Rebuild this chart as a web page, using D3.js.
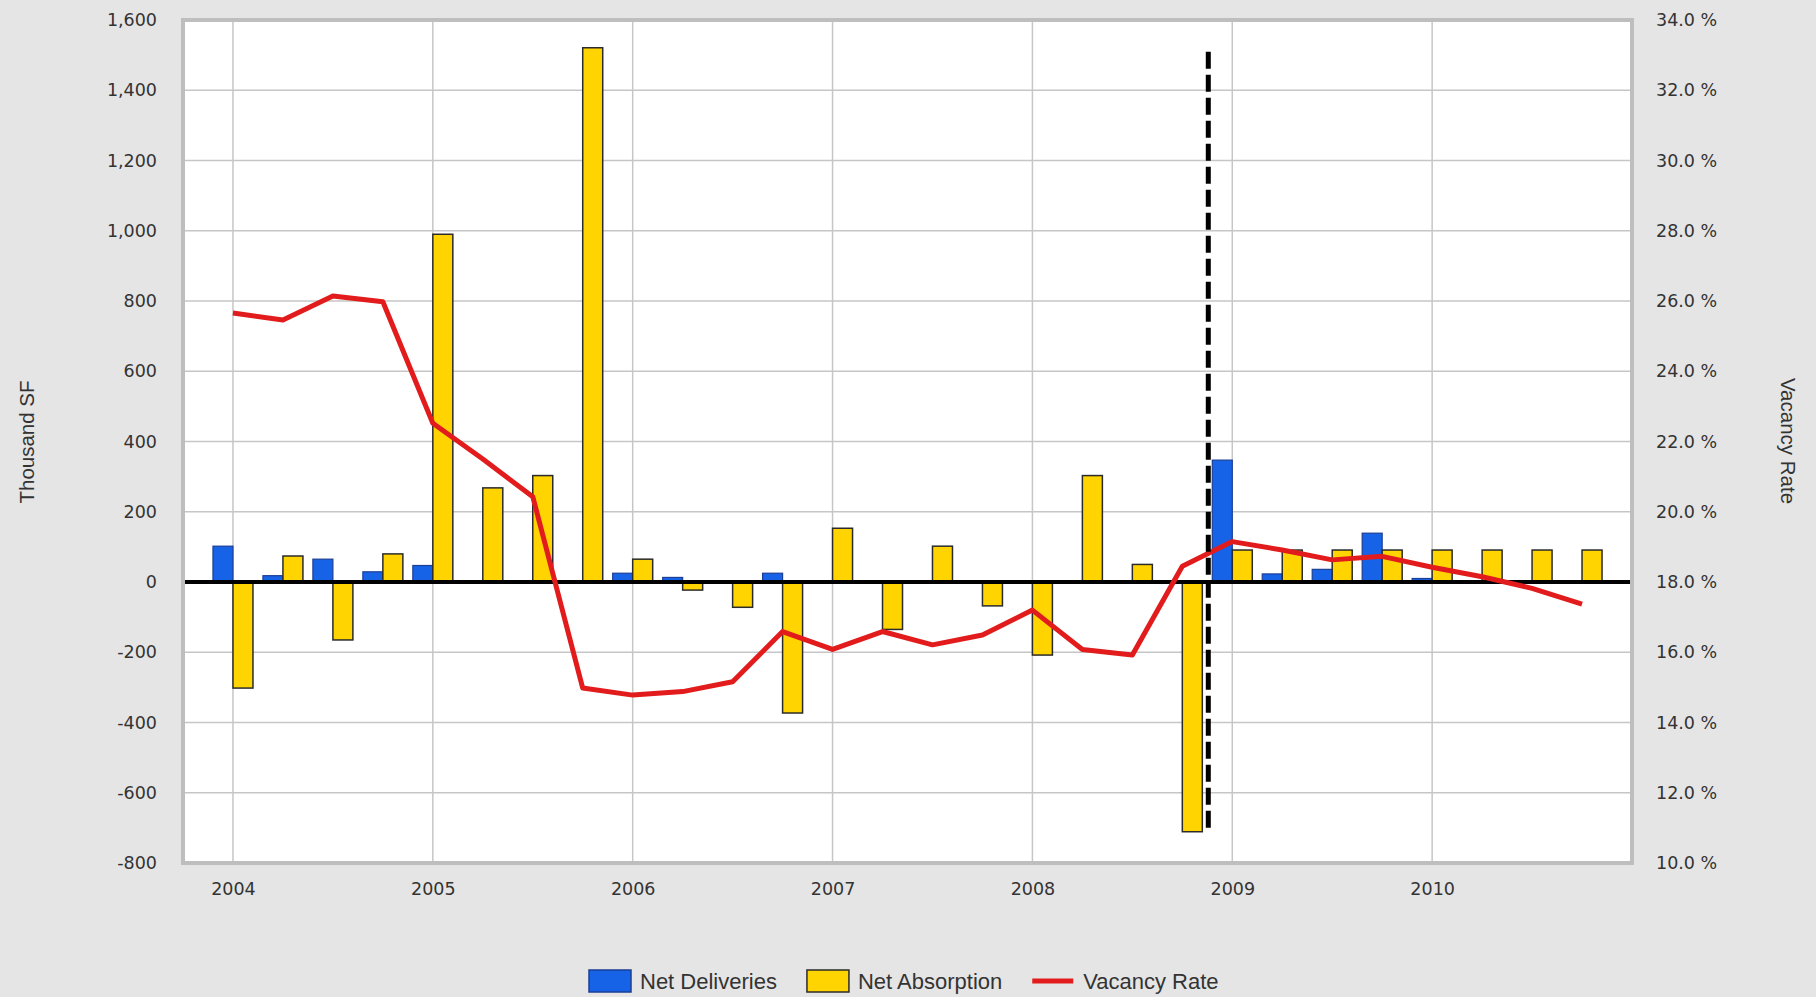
<!DOCTYPE html>
<head>
  <meta charset="utf-8">
  <title>Net Deliveries, Absorption and Vacancy</title>
  <script src="https://d3js.org/d3.v7.min.js"></script>
</head>
<body style="margin:0;background:#e5e5e5">
  <style>
  .tick text { font-family: "DejaVu Sans", sans-serif; font-size: 17.5px; fill: #333; }
  .domain { display: none; }
  .title { font-family: "Liberation Sans", Arial, sans-serif; font-size: 20.5px; fill: #333; }
  .legend text { font-family: "Liberation Sans", Arial, sans-serif; font-size: 22px; fill: #333; }
  </style>
  <script>
    var quarters = ['2004Q1','2004Q2','2004Q3','2004Q4','2005Q1','2005Q2','2005Q3','2005Q4',
      '2006Q1','2006Q2','2006Q3','2006Q4','2007Q1','2007Q2','2007Q3','2007Q4',
      '2008Q1','2008Q2','2008Q3','2008Q4','2009Q1','2009Q2','2009Q3','2009Q4',
      '2010Q1','2010Q2','2010Q3','2010Q4'];
    var netDeliveries = [102, 18, 65, 29, 47, 0, 0, 0, 25, 13, 0, 25, 0, 0, 0, 0,
      0, 0, 0, 0, 347, 23, 36, 139, 10, 0, 0, 0];
    var netAbsorption = [-302, 74, -165, 80, 990, 268, 303, 1521, 65, -23, -72, -373, 153, -135, 102, -68,
      -208, 303, 50, -711, 91, 91, 91, 91, 91, 91, 91, 91];
    var vacancyRate = [25.66, 25.46, 26.14, 25.98, 22.52, 21.5, 20.43, 14.98, 14.78, 14.88, 15.16, 16.59,
      16.08, 16.59, 16.21, 16.49, 17.2, 16.08, 15.92, 18.45, 19.15, 18.91, 18.63, 18.73,
      18.42, 18.15, 17.82, 17.37];
    var yearTicks = [2004, 2005, 2006, 2007, 2008, 2009, 2010];
    var leftTicks = [-800, -600, -400, -200, 0, 200, 400, 600, 800, 1000, 1200, 1400, 1600];
    var rightTicks = [10, 12, 14, 16, 18, 20, 22, 24, 26, 28, 30, 32, 34];
    var forecastStart = '2008Q4';
    var legendLabels = ['Net Deliveries', 'Net Absorption', 'Vacancy Rate'];

    var width = 1816;
    var height = 997;
    var plotL = 183, plotR = 1632, plotT = 20, plotB = 863;
    var barW = 20;

    function toYear(q) { return +q.slice(0, 4) + (+q.slice(5) - 1) / 4; }

    var svg = d3.select('body').append('svg').attr('width', width).attr('height', height);

    var xscale = d3.scaleLinear().domain([2003.75, 2011]).range([plotL, plotR]);
    var yscale = d3.scaleLinear().domain([-800, 1600]).range([plotB, plotT]);
    var vscale = d3.scaleLinear().domain([10, 34]).range([plotB, plotT]);

    svg.append('rect').attr('x', plotL).attr('y', plotT)
      .attr('width', plotR - plotL).attr('height', plotB - plotT).attr('fill', 'white');

    // grid
    svg.append('g').selectAll('line').data(leftTicks).enter().append('line')
      .attr('x1', plotL).attr('x2', plotR)
      .attr('y1', function(d) {return yscale(d);}).attr('y2', function(d) {return yscale(d);})
      .attr('stroke', '#c6c6c6').attr('stroke-width', 1.5);
    svg.append('g').selectAll('line').data(yearTicks).enter().append('line')
      .attr('y1', plotT).attr('y2', plotB)
      .attr('x1', function(d) {return xscale(d);}).attr('x2', function(d) {return xscale(d);})
      .attr('stroke', '#c6c6c6').attr('stroke-width', 1.5);

    // bars
    svg.append('g').selectAll('rect')
      .data(quarters.filter(function(q, i) {return netDeliveries[i] !== 0;}))
      .enter().append('rect')
      .attr('x', function(q) {return xscale(toYear(q)) - barW;})
      .attr('y', function(q) {return yscale(Math.max(0, netDeliveries[quarters.indexOf(q)]));})
      .attr('width', barW)
      .attr('height', function(q) {return Math.abs(yscale(netDeliveries[quarters.indexOf(q)]) - yscale(0));})
      .attr('fill', '#1763e8').attr('stroke', '#1b3f94').attr('stroke-width', 1.2);

    svg.append('g').selectAll('rect').data(quarters).enter().append('rect')
      .attr('x', function(q) {return xscale(toYear(q));})
      .attr('y', function(q, i) {return yscale(Math.max(0, netAbsorption[i]));})
      .attr('width', barW)
      .attr('height', function(q, i) {return Math.abs(yscale(netAbsorption[i]) - yscale(0));})
      .attr('fill', '#ffd400').attr('stroke', '#2b2b2b').attr('stroke-width', 1.5);

    // zero line
    svg.append('line').attr('x1', plotL).attr('x2', plotR)
      .attr('y1', yscale(0)).attr('y2', yscale(0))
      .attr('stroke', 'black').attr('stroke-width', 4);

    // vacancy line
    var line = d3.line()
      .x(function(q) {return xscale(toYear(q));})
      .y(function(q, i) {return vscale(vacancyRate[i]);});
    svg.append('path').datum(quarters).attr('d', line)
      .attr('fill', 'none').attr('stroke', '#e21c1c').attr('stroke-width', 5)
      .attr('stroke-linejoin', 'round');

    // forecast divider
    var fx = xscale(toYear(forecastStart) + 0.13);
    svg.append('line').attr('x1', fx).attr('x2', fx)
      .attr('y1', yscale(d3.max(netAbsorption)) + 4).attr('y2', yscale(d3.min(netAbsorption)))
      .attr('stroke', 'black').attr('stroke-width', 5).attr('stroke-dasharray', '17 6');

    // frame
    svg.append('rect').attr('x', plotL).attr('y', plotT)
      .attr('width', plotR - plotL).attr('height', plotB - plotT)
      .attr('fill', 'none').attr('stroke', '#bebebe').attr('stroke-width', 4);

    // axes
    var comma = d3.format(',');
    svg.append('g').attr('transform', 'translate(' + plotL + ',0)')
      .call(d3.axisLeft(yscale).tickValues(leftTicks)
        .tickFormat(function(d) {return comma(d).replace('\u2212', '-');}).tickSize(0).tickPadding(26));
    svg.append('g').attr('transform', 'translate(' + plotR + ',0)')
      .call(d3.axisRight(vscale).tickValues(rightTicks).tickFormat(function(d) {return d.toFixed(1) + ' %';})
        .tickSize(0).tickPadding(24));
    svg.append('g').attr('transform', 'translate(0,' + plotB + ')')
      .call(d3.axisBottom(xscale).tickValues(yearTicks).tickFormat(d3.format('d')).tickSize(0).tickPadding(20));

    svg.append('text').attr('class', 'title').attr('text-anchor', 'middle')
      .attr('transform', 'translate(34,442) rotate(-90)').text('Thousand SF');
    svg.append('text').attr('class', 'title').attr('text-anchor', 'middle')
      .attr('transform', 'translate(1781,441) rotate(90)').text('Vacancy Rate');

    // legend
    var legend = svg.append('g').attr('class', 'legend');
    var lx = 589;
    var swatchFill = ['#1763e8', '#ffd400', null];
    var swatchStroke = ['#1b3f94', '#2b2b2b', '#e21c1c'];
    legendLabels.forEach(function(label, i) {
      if (swatchFill[i]) {
        legend.append('rect').attr('x', lx).attr('y', 970).attr('width', 42).attr('height', 22)
          .attr('fill', swatchFill[i]).attr('stroke', swatchStroke[i]).attr('stroke-width', 1.5);
      } else {
        legend.append('line').attr('x1', lx).attr('x2', lx + 41).attr('y1', 981).attr('y2', 981)
          .attr('stroke', swatchStroke[i]).attr('stroke-width', 5);
      }
      var t = legend.append('text').attr('x', lx + 51).attr('y', 989).text(label);
      lx += 51 + t.node().getComputedTextLength() + 30;
    });
  </script>
</body>
